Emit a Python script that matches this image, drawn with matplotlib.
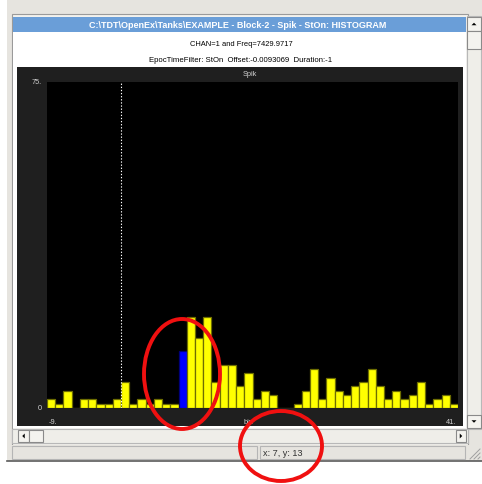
import matplotlib.pyplot as plt
from matplotlib.patches import Rectangle, Ellipse, Polygon

# histogram data (bin left edges, spike counts)
bin_starts = list(range(-9, 41))
counts = [2, 1, 4, 0, 2, 2, 1, 1, 2, 6,
          1, 2, 1, 2, 1, 1, 13, 21, 16, 21,
          6, 10, 10, 5, 8, 2, 4, 3, 0, 0,
          1, 4, 9, 2, 7, 4, 3, 5, 6, 9,
          5, 2, 4, 2, 3, 6, 1, 2, 3, 1]
selected_bin = 7
y_max = 75
x_min, x_max = -9, 41

title_text = "C:\\TDT\\OpenEx\\Tanks\\EXAMPLE - Block-2 - Spik - StOn: HISTOGRAM"
line1 = "CHAN=1 and Freq=7429.9717"
line2 = "EpocTimeFilter: StOn  Offset:-0.0093069  Duration:-1"
status_text = "x: 7, y: 13"

W, H = 482, 485
fig = plt.figure(figsize=(W / 100, H / 100), dpi=100)
fig.patch.set_facecolor("white")

plt.rcParams["font.family"] = ["Liberation Sans", "DejaVu Sans"]

# window chrome drawn in pixel coordinates
bg = fig.add_axes([0, 0, 1, 1])
bg.set_xlim(0, W)
bg.set_ylim(H, 0)
bg.axis("off")


def box(ax, x0, y0, x1, y1, fc, ec="none", lw=0.8, z=1):
    ax.add_patch(Rectangle((x0, y0), x1 - x0, y1 - y0, facecolor=fc,
                           edgecolor=ec, linewidth=lw, zorder=z))


def arrow(ax, cx, cy, direction, s=2.5):
    if direction == "up":
        pts = [(cx - s, cy + s / 2), (cx + s, cy + s / 2), (cx, cy - s / 2)]
    elif direction == "down":
        pts = [(cx - s, cy - s / 2), (cx + s, cy - s / 2), (cx, cy + s / 2)]
    elif direction == "left":
        pts = [(cx + s / 2, cy - s), (cx + s / 2, cy + s), (cx - s / 2, cy)]
    else:
        pts = [(cx - s / 2, cy - s), (cx - s / 2, cy + s), (cx + s / 2, cy)]
    ax.add_patch(Polygon(pts, closed=True, facecolor="black", edgecolor="none", zorder=5))


# outer gray frame
box(bg, 7, 0, W, 462, "#e6e4df")
bg.plot([7, W], [462, 462], color="#5a5a5a", lw=1.2, zorder=2)
# child window
box(bg, 12, 15, 468, 446, "#f2f1ed", ec="#9a9a9a", z=2)
box(bg, 13, 33, 466, 429, "white", z=3)
box(bg, 13, 18, 466, 33, "#6a9ed8", z=3)
bg.text(238, 25.5, title_text, color="white", fontsize=6.5, fontweight="bold",
        ha="center", va="center", zorder=4)
bg.text(241, 45, line1, color="black", fontsize=5.4, ha="center", va="center", zorder=4)
bg.text(241, 60, line2, color="black", fontsize=5.6, ha="center", va="center", zorder=4)

# dark panel around the plot
box(bg, 17, 68, 463, 427, "#1f1f1f", z=3)
bg.text(250, 75, "Spik", color="#cfcfcf", fontsize=5.3, ha="center", va="center", zorder=4)

# vertical scrollbar
box(bg, 467, 17, 481, 430, "#efeee9", ec="#b8b8b8", z=3)
box(bg, 467, 18, 481, 32, "#f4f3ef", ec="#8a8a8a", z=4)
arrow(bg, 474, 25, "up")
box(bg, 467, 32, 481, 50, "#f4f3ef", ec="#8a8a8a", z=4)
box(bg, 467, 416, 481, 429, "#f4f3ef", ec="#8a8a8a", z=4)
arrow(bg, 474, 422.5, "down")

# horizontal scrollbar
box(bg, 12, 430, 468, 444, "#efeee9", ec="#b8b8b8", z=3)
box(bg, 18, 431, 29, 443, "#f4f3ef", ec="#8a8a8a", z=4)
arrow(bg, 23.5, 437, "left")
box(bg, 29, 431, 43, 443, "#f4f3ef", ec="#8a8a8a", z=4)
box(bg, 456, 431, 466, 443, "#f4f3ef", ec="#8a8a8a", z=4)
arrow(bg, 461, 437, "right")

# status bar
box(bg, 8, 446, W, 461, "#e6e4df", z=2)
box(bg, 12, 447, 257, 460, "#e6e4df", ec="#b5b5b5", z=3)
box(bg, 260, 447, 465, 460, "#e6e4df", ec="#b5b5b5", z=3)
bg.text(263, 453.5, status_text, color="#333333", fontsize=6.6, ha="left", va="center", zorder=4)
for k in range(3):
    o = 4 * k
    bg.plot([470 + o, 480], [460, 450 + o], color="#a0a0a0", lw=0.7, zorder=4)

# histogram plot area
L, R, T, B = 47, 458, 83, 409
ax = fig.add_axes([L / W, 1 - B / H, (R - L) / W, (B - T) / H])
ax.set_facecolor("black")
colors = ["#0000ff" if b == selected_bin else "#ffff00" for b in bin_starts]
edges = ["#00007a" if b == selected_bin else "#6e6e00" for b in bin_starts]
ax.bar(bin_starts, counts, width=1.0, align="edge", color=colors,
       edgecolor=edges, linewidth=0.9, zorder=2)
ax.axvline(0, color="white", linestyle=(0, (1.2, 1.6)), lw=0.8, zorder=3)
ax.set_xlim(x_min, x_max)
ax.set_ylim(0, y_max)
ax.set_xticks([])
ax.set_yticks([])
for s in ax.spines.values():
    s.set_visible(False)

lab = dict(color="#d0d0d0", fontsize=5.3)
ax.text(-0.012, 1.0, f"{y_max}.", transform=ax.transAxes, ha="right", va="center", **lab)
ax.text(-0.012, 0.0, "0", transform=ax.transAxes, ha="right", va="center", **lab)
ax.text(0.005, -0.04, f"{x_min}.", transform=ax.transAxes, ha="left", va="center", **lab)
ax.text(0.995, -0.04, f"{x_max}.", transform=ax.transAxes, ha="right", va="center", **lab)
ax.text(0.49, -0.04, "bin", transform=ax.transAxes, ha="center", va="center", **lab)

# red annotation circles on top
ink = fig.add_axes([0, 0, 1, 1], zorder=20)
ink.set_xlim(0, W)
ink.set_ylim(H, 0)
ink.axis("off")
ink.patch.set_alpha(0)
ink.add_patch(Ellipse((182, 375), 76, 110, fill=False, edgecolor="#f01010", lw=2.8))
ink.add_patch(Ellipse((281, 447), 82, 70, fill=False, edgecolor="#f01010", lw=2.8))

fig.savefig("out.png", dpi=100, facecolor=fig.get_facecolor())
